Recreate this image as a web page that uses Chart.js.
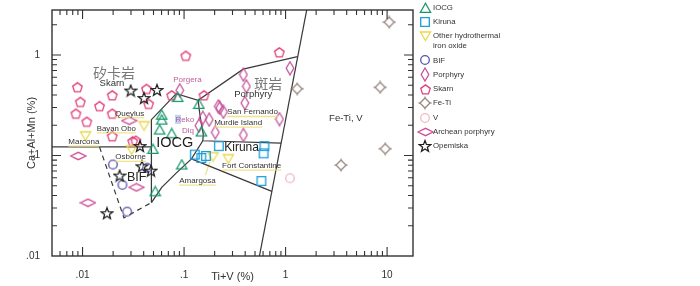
<!DOCTYPE html>
<html>
<head>
<meta charset="utf-8">
<script src="https://cdn.jsdelivr.net/npm/chart.js@4.4.0/dist/chart.umd.min.js"></script>
<style>
  html, body { margin: 0; padding: 0; background: #fff; }
</style>
</head>
<body>
<canvas id="chart" width="700" height="286"></canvas>
<script>
// axis ranges (log-log)
const xMin = 0.005, xMax = 18;
const yMin = 0.01, yMax = 2.8;

// deposit samples: [Ti+V, Ca+Al+Mn] in %
const iocgPts = [[0.0867,0.381],[0.140,0.325],[0.0603,0.254],[0.0603,0.227],[0.0576,0.181],[0.0756,0.166],[0.148,0.173],[0.0494,0.116],[0.0949,0.0813],[0.052,0.044]];
const kirunaPts = [[0.220,0.124],[0.1275,0.102],[0.148,0.0944],[0.164,0.0989],[0.619,0.124],[0.607,0.105],[0.578,0.0557]];
const otherPts = [[0.0107,0.157],[0.0403,0.198],[0.0305,0.114],[0.193,0.0973],[0.273,0.093]];
const bifPts = [[0.0199,0.0813],[0.0247,0.051],[0.0275,0.0276],[0.0433,0.0755]];
const porphyryPts = [[0.0907,0.445],[0.140,0.198],[0.153,0.237],[0.177,0.227],[0.2176,0.3075],[0.225,0.297],[0.244,0.272],[0.203,0.170],[0.384,0.638],[0.411,0.4875],[0.397,0.333],[0.384,0.160],[0.871,0.230],[1.105,0.738]];
const skarnPts = [[0.0089,0.477],[0.0095,0.340],[0.0086,0.260],[0.0110,0.216],[0.0147,0.309],[0.0196,0.396],[0.0196,0.260],[0.0196,0.155],[0.0312,0.138],[0.0335,0.140],[0.0426,0.458],[0.0448,0.325],[0.0756,0.396],[0.104,0.978],[0.157,0.396],[0.867,1.06]];
const feTiPts = [[10.5,2.12],[1.30,0.461],[8.55,0.4765],[9.58,0.1165],[3.52,0.0802]];
const vPts = [[1.105,0.0594]];
const archeanPts = [[0.00907,0.0989],[0.0113,0.0339],[0.0339,0.0482],[0.0288,0.222]];
const opemiskaPts = [[0.0298,0.442],[0.0403,0.372],[0.0541,0.448],[0.0368,0.124],[0.0385,0.078],[0.0472,0.0706],[0.0232,0.0631],[0.0174,0.0266]];

// field boundaries
const marconaLine = [[0.005,0.1219],[0.04767,0.1219]];
const iocgTopLine = [[0.04767,0.0340],[0.04767,0.227],[0.0838,0.4118],[0.1375,0.3534],[0.3823,0.7221],[1.31,0.9625]];
const dividerLine = [[0.1375,0.3534],[0.1445,0.2374],[0.1547,0.1621],[0.1530,0.1401],[0.907,0.1324]];
const iocgLowLine = [[0.04767,0.0340],[0.0603,0.0482],[0.0826,0.0660],[0.1183,0.0924],[0.1530,0.1401]];
const kirunaLowLine = [[0.1183,0.0924],[0.7325,0.044]];
const feTiLine = [[1.615,2.8],[0.5525,0.01]];
const bifDash = [[0.0147,0.1211],[0.02557,0.0240],[0.04767,0.0340]];
const amargosaLeader = [[0.1794,0.0864],[0.162,0.0638]];

// text labels on the diagram
const labels = [
  { t: '矽卡岩', x: 0.0204, y: 0.663, size: 14, color: '#777', cjk: true },
  { t: 'Skarn', x: 0.0195, y: 0.521, size: 9.5, color: '#333' },
  { t: 'Queylus', x: 0.0291, y: 0.2627, size: 8, color: '#333', ul: true },
  { t: 'Bayan Obo', x: 0.0215, y: 0.1855, size: 7.8, color: '#333', ul: true },
  { t: 'Marcona', x: 0.0103, y: 0.137, size: 8, color: '#333', ul: true },
  { t: 'Osborne', x: 0.0298, y: 0.0967, size: 8, color: '#333', ul: true },
  { t: 'BIF', x: 0.0341, y: 0.061, size: 12.5, color: '#222' },
  { t: 'IOCG', x: 0.0809, y: 0.1324, size: 14.5, color: '#222' },
  { t: 'Kiruna', x: 0.3687, y: 0.1183, size: 12, color: '#222' },
  { t: 'Porgera', x: 0.108, y: 0.570, size: 8, color: '#c0609a' },
  { t: 'Reko', x: 0.1016, y: 0.2286, size: 8, color: '#b0609a' },
  { t: 'Diq', x: 0.1095, y: 0.176, size: 8, color: '#b0609a' },
  { t: 'San Fernando', x: 0.4734, y: 0.27, size: 8, color: '#333', ul: true },
  { t: 'Murdie Island', x: 0.3413, y: 0.2122, size: 8, color: '#333', ul: true },
  { t: '斑岩', x: 0.675, y: 0.521, size: 14, color: '#777', cjk: true },
  { t: 'Porphyry', x: 0.48, y: 0.41, size: 9.5, color: '#333' },
  { t: 'Fort Constantine', x: 0.463, y: 0.079, size: 8, color: '#333', ul: true },
  { t: 'Amargosa', x: 0.1356, y: 0.056, size: 8, color: '#333', ul: true },
  { t: 'Fe-Ti, V', x: 3.92, y: 0.2322, size: 9.5, color: '#333' }
];

const FONT = "'Liberation Sans', Arial, sans-serif";

function marker(w, h, color, draw, lw) {
  const c = document.createElement('canvas');
  c.width = w; c.height = h;
  const g = c.getContext('2d');
  g.strokeStyle = color;
  g.lineWidth = lw || 1.3;
  g.lineJoin = 'miter';
  g.beginPath();
  draw(g, w, h);
  g.stroke();
  return c;
}
function poly(g, pts) {
  pts.forEach((p, i) => i ? g.lineTo(p[0], p[1]) : g.moveTo(p[0], p[1]));
  g.closePath();
}
function ngon(g, cx, cy, r, n, rot) {
  const pts = [];
  for (let i = 0; i < n; i++) {
    const a = rot + i * 2 * Math.PI / n;
    pts.push([cx + r * Math.cos(a), cy + r * Math.sin(a)]);
  }
  poly(g, pts);
}

const mk = {
  iocg: marker(13, 12, '#16976a', g => poly(g, [[6.5,1.3],[11.6,10.3],[1.4,10.3]])),
  kiruna: marker(12, 12, '#1b9ed9', g => g.rect(1.7, 1.7, 8.6, 8.6)),
  other: marker(13, 12, '#ecd84a', g => poly(g, [[1.4,2],[11.6,2],[6.5,10.5]])),
  bif: marker(12, 12, '#5754ad', g => g.arc(6, 6, 4.3, 0, 2 * Math.PI)),
  porphyry: marker(10, 15, '#c4559b', g => poly(g, [[5,1],[8.8,7.5],[5,14],[1.2,7.5]])),
  skarn: marker(13, 13, '#e2407c', g => ngon(g, 6.5, 6.9, 5, 5, -Math.PI / 2)),
  feTi: marker(14, 14, '#968780', g => {
    poly(g, [[7,2],[12,7],[7,12],[2,7]]);
    g.moveTo(7, 0.5); g.lineTo(7, 2);
    g.moveTo(12, 7); g.lineTo(13.5, 7);
    g.moveTo(7, 12); g.lineTo(7, 13.5);
    g.moveTo(2, 7); g.lineTo(0.5, 7);
  }),
  v: marker(12, 12, '#f2b9c4', g => g.arc(6, 6, 4.3, 0, 2 * Math.PI)),
  archean: marker(17, 10, '#d0509a', g => poly(g, [[1,5],[8.5,1.3],[16,5],[8.5,8.7]])),
  opemiska: marker(14, 14, '#1e1e1e', g => {
    const pts = [];
    for (let i = 0; i < 10; i++) {
      const r = i % 2 ? 2.5 : 6;
      const a = -Math.PI / 2 + i * Math.PI / 5;
      pts.push([7 + r * Math.cos(a), 7.5 + r * Math.sin(a)]);
    }
    poly(g, pts);
  }, 1.25)
};

const legendItems = [
  ['IOCG', mk.iocg], ['Kiruna', mk.kiruna], [['Other hydrothermal', 'iron oxide'], mk.other],
  ['BIF', mk.bif], ['Porphyry', mk.porphyry], ['Skarn', mk.skarn], ['Fe-Ti', mk.feTi],
  ['V', mk.v], ['Archean porphyry', mk.archean], ['Opemiska', mk.opemiska]
];

const toXY = arr => arr.map(p => ({ x: p[0], y: p[1] }));

function pointSet(label, pts, style) {
  return { label, data: toXY(pts), pointStyle: style, pointRadius: 5, order: 1 };
}
function lineSet(pts, opts) {
  return Object.assign({
    type: 'line', data: toXY(pts), showLine: true, pointRadius: 0,
    borderColor: '#3a3a3a', borderWidth: 1.25, fill: false, order: 2, tension: 0
  }, opts || {});
}

const decorPlugin = {
  id: 'decor',
  afterDatasetsDraw(chart) {
    const { ctx, chartArea: a, scales: { x, y } } = chart;
    ctx.save();
    // labels
    labels.forEach(l => {
      const px = x.getPixelForValue(l.x), py = y.getPixelForValue(l.y);
      ctx.font = l.size + 'px ' + (l.cjk ? "'Noto Sans CJK SC', sans-serif" : FONT);
      ctx.textAlign = 'center';
      ctx.textBaseline = 'middle';
      const w = ctx.measureText(l.t).width;
      if (l.ul) {
        ctx.strokeStyle = 'rgba(238,222,120,0.85)';
        ctx.lineWidth = 1.3;
        ctx.beginPath();
        ctx.moveTo(px - w / 2, py + l.size * 0.55);
        ctx.lineTo(px + w / 2, py + l.size * 0.55);
        ctx.stroke();
      }
      if (l.t === 'Reko') {
        ctx.fillStyle = 'rgba(150,180,230,0.6)';
        ctx.fillRect(px - w / 2 - 0.5, py - 4.5, 6, 9);
      }
      ctx.fillStyle = l.color;
      ctx.fillText(l.t, px, py);
    });
    // frame
    ctx.strokeStyle = '#333';
    ctx.lineWidth = 1.4;
    ctx.strokeRect(a.left, a.top, a.right - a.left, a.bottom - a.top);
    // inward log ticks on all four sides
    ctx.lineWidth = 1.1;
    ctx.beginPath();
    for (let e = -3; e <= 2; e++) {
      for (let m = 1; m <= 9; m++) {
        const v = m * Math.pow(10, e);
        const len = m === 1 ? 9 : 5;
        if (v > xMin * 1.001 && v < xMax * 0.999) {
          const p = x.getPixelForValue(v);
          ctx.moveTo(p, a.bottom); ctx.lineTo(p, a.bottom - len);
          ctx.moveTo(p, a.top); ctx.lineTo(p, a.top + len);
        }
        if (v > yMin * 1.001 && v < yMax * 0.999) {
          const p = y.getPixelForValue(v);
          ctx.moveTo(a.left, p); ctx.lineTo(a.left + len, p);
          ctx.moveTo(a.right, p); ctx.lineTo(a.right - len, p);
        }
      }
    }
    ctx.stroke();
    // legend
    ctx.font = '7.8px ' + FONT;
    ctx.textAlign = 'left';
    ctx.textBaseline = 'middle';
    ctx.fillStyle = '#333';
    let ly = 7.5;
    legendItems.forEach(([text, img]) => {
      ctx.drawImage(img, Math.round(425 - img.width / 2), Math.round(ly - img.height / 2));
      const lines = Array.isArray(text) ? text : [text];
      lines.forEach((t, i) => ctx.fillText(t, 433, ly + i * 10));
      ly += 14.3 + (lines.length - 1) * 10;
    });
    ctx.restore();
  }
};

function tickLabel(v) {
  const l = Math.log10(v);
  if (Math.abs(l - Math.round(l)) > 1e-6) return null;
  const r = Math.round(l);
  return r === -2 ? '.01' : r === -1 ? '.1' : r === 0 ? '1' : r === 1 ? '10' : null;
}

new Chart(document.getElementById('chart').getContext('2d'), {
  type: 'scatter',
  data: {
    datasets: [
      pointSet('Opemiska', opemiskaPts, mk.opemiska),
      pointSet('IOCG', iocgPts, mk.iocg),
      pointSet('Kiruna', kirunaPts, mk.kiruna),
      pointSet('Other hydrothermal iron oxide', otherPts, mk.other),
      pointSet('BIF', bifPts, mk.bif),
      pointSet('Porphyry', porphyryPts, mk.porphyry),
      pointSet('Skarn', skarnPts, mk.skarn),
      pointSet('Fe-Ti', feTiPts, mk.feTi),
      pointSet('V', vPts, mk.v),
      pointSet('Archean porphyry', archeanPts, mk.archean),
      lineSet(marconaLine),
      lineSet(iocgTopLine),
      lineSet(dividerLine),
      lineSet(iocgLowLine),
      lineSet(kirunaLowLine),
      lineSet(feTiLine),
      lineSet(bifDash, { borderDash: [5, 4] }),
      lineSet(amargosaLeader, { borderColor: 'rgba(238,222,120,0.9)', borderWidth: 1.3 })
    ]
  },
  options: {
    responsive: false,
    animation: false,
    layout: { padding: { left: 0, right: 287, top: 5, bottom: 0 } },
    plugins: { legend: { display: false }, tooltip: { enabled: false } },
    scales: {
      x: {
        type: 'logarithmic',
        min: xMin,
        max: xMax,
        grid: { display: false },
        border: { display: false },
        afterFit: s => { s.height = 30; },
        ticks: {
          autoSkip: false, maxRotation: 0, padding: 5,
          color: '#333', font: { family: FONT, size: 10 },
          callback: v => tickLabel(v)
        },
        title: {
          display: true, text: 'Ti+V (%)', color: '#333',
          font: { family: FONT, size: 11 }, padding: { top: 0, bottom: 2 }
        }
      },
      y: {
        type: 'logarithmic',
        min: yMin,
        max: yMax,
        grid: { display: false },
        border: { display: false },
        afterFit: s => { s.width = 52; },
        ticks: {
          autoSkip: false, padding: 4,
          color: '#333', font: { family: FONT, size: 10 },
          callback: v => tickLabel(v)
        },
        title: {
          display: true, text: 'Ca+Al+Mn (%)', color: '#333',
          font: { family: FONT, size: 11 }, padding: { top: 25, bottom: 0 }
        }
      }
    }
  },
  plugins: [decorPlugin]
});
</script>
</body>
</html>
